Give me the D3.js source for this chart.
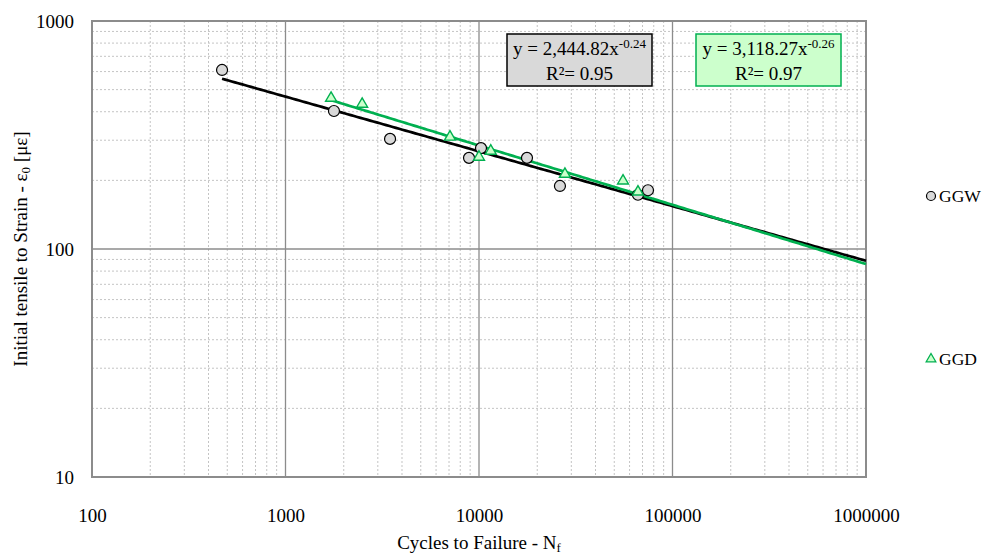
<!DOCTYPE html>
<html>
<head>
<meta charset="utf-8">
<script src="https://cdn.jsdelivr.net/npm/d3@7"></script>
<style>
  html, body { margin: 0; padding: 0; background: #fff; }
  svg text { font-family: "Liberation Serif", "Times New Roman", serif; fill: #000; }
</style>
</head>
<body>
<svg id="chart" width="984" height="556"></svg>
<script>
// GGW specimens: cycles to failure and initial tensile strain (με)
const ggwCycles = [470, 1780, 3470, 8880, 10240, 17700, 26200, 66300, 74700];
const ggwStrain = [610, 403, 304, 251, 277, 251, 189, 173, 181];

// GGD specimens
const ggdCycles = [1720, 2490, 7080, 10000, 11500, 27800, 55500, 66300];
const ggdStrain = [459, 432, 310, 253, 269, 213, 199, 178];

// Power trend lines y = a·x^b
const ggwFit = { a: 2444.82, b: -0.24, r2: 0.95, label: "2,444.82", exp: "-0.24" };
const ggdFit = { a: 3118.27, b: -0.26, r2: 0.97, label: "3,118.27", exp: "-0.26" };

const xTicks = [100, 1000, 10000, 100000, 1000000];
const yTicks = [10, 100, 1000];

const svg = d3.select("#chart");
const plotL = 92, plotR = 866, plotT = 21, plotB = 477;
const fs = "19px";

const x = d3.scaleLog().domain([100, 1000000]).range([plotL, plotR]);
const y = d3.scaleLog().domain([10, 1000]).range([plotB, plotT]);

const green = "#00B050";

// minor grid (dotted)
const minorX = [], minorY = [];
for (let d = 100; d < 1000000; d *= 10) for (let k = 2; k <= 9; k++) minorX.push(d * k);
for (let d = 10; d < 1000; d *= 10) for (let k = 2; k <= 9; k++) minorY.push(d * k);

svg.append("g").selectAll("line").data(minorX).join("line")
  .attr("x1", d => x(d)).attr("x2", d => x(d)).attr("y1", plotT).attr("y2", plotB)
  .attr("stroke", "#c4c4c4").attr("stroke-width", 1).attr("stroke-dasharray", "2,2");
svg.append("g").selectAll("line").data(minorY).join("line")
  .attr("y1", d => y(d)).attr("y2", d => y(d)).attr("x1", plotL).attr("x2", plotR)
  .attr("stroke", "#c4c4c4").attr("stroke-width", 1).attr("stroke-dasharray", "2,2");

// major grid
svg.append("g").selectAll("line").data(xTicks.slice(1, -1)).join("line")
  .attr("x1", d => x(d)).attr("x2", d => x(d)).attr("y1", plotT).attr("y2", plotB)
  .attr("stroke", "#8c8c8c").attr("stroke-width", 1.3);
svg.append("g").selectAll("line").data(yTicks.slice(1, -1)).join("line")
  .attr("y1", d => y(d)).attr("y2", d => y(d)).attr("x1", plotL).attr("x2", plotR)
  .attr("stroke", "#8c8c8c").attr("stroke-width", 1.3);

// plot frame
svg.append("rect").attr("x", plotL).attr("y", plotT)
  .attr("width", plotR - plotL).attr("height", plotB - plotT)
  .attr("fill", "none").attr("stroke", "#8c8c8c").attr("stroke-width", 2);

// axes (labels only)
const xAxis = d3.axisBottom(x).tickValues(xTicks).tickFormat(d3.format("d")).tickSize(0).tickPadding(0);
const gx = svg.append("g").attr("transform", `translate(0,${plotB})`).call(xAxis);
gx.select(".domain").remove();
gx.selectAll("text").attr("dy", null).attr("y", 45)
  .style("font-family", "Liberation Serif").style("font-size", fs);

const yAxis = d3.axisLeft(y).tickValues(yTicks).tickFormat(d3.format("d")).tickSize(0).tickPadding(0);
const gy = svg.append("g").attr("transform", `translate(${plotL},0)`).call(yAxis);
gy.select(".domain").remove();
gy.selectAll("text").attr("x", -18).attr("dy", "0.32em")
  .style("font-family", "Liberation Serif").style("font-size", fs);

// axis titles
const xt = svg.append("text").attr("x", 479).attr("y", 549).attr("text-anchor", "middle")
  .style("font-size", fs);
xt.append("tspan").text("Cycles to Failure - N");
xt.append("tspan").attr("baseline-shift", "-22%").style("font-size", "13px").text("f");

const yt = svg.append("text").attr("transform", `translate(27,${(plotT + plotB) / 2}) rotate(-90)`)
  .attr("text-anchor", "middle").style("font-size", fs);
yt.append("tspan").text("Initial tensile to Strain - ε");
yt.append("tspan").attr("baseline-shift", "-25%").style("font-size", "13px").text("0");
yt.append("tspan").text(" [με]");

// trend lines
function trend(fit, x0) {
  const xs = d3.range(0, 201).map(i => x0 * Math.pow(1000000 / x0, i / 200));
  return xs.map(v => [v, fit.a * Math.pow(v, fit.b)]);
}
const line = d3.line().x(d => x(d[0])).y(d => y(d[1]));

svg.append("path").datum(trend(ggwFit, d3.min(ggwCycles)))
  .attr("d", line).attr("fill", "none").attr("stroke", "#000").attr("stroke-width", 2.7);
svg.append("path").datum(trend(ggdFit, d3.min(ggdCycles)))
  .attr("d", line).attr("fill", "none").attr("stroke", green).attr("stroke-width", 2.7);

// markers
const ggw = ggwCycles.map((c, i) => [c, ggwStrain[i]]);
const ggd = ggdCycles.map((c, i) => [c, ggdStrain[i]]);
const tri = d3.symbol().type(d3.symbolTriangle).size(52);

svg.append("g").selectAll("circle").data(ggw).join("circle")
  .attr("cx", d => x(d[0])).attr("cy", d => y(d[1])).attr("r", 5.5)
  .attr("fill", "#d9d9d9").attr("stroke", "#000").attr("stroke-width", 1.2);

svg.append("g").selectAll("path").data(ggd).join("path")
  .attr("d", tri).attr("transform", d => `translate(${x(d[0])},${y(d[1])})`)
  .attr("fill", "#ccffcc").attr("stroke", green).attr("stroke-width", 1.4);

// equation boxes
function eqBox(fit, bx, fill, stroke) {
  const g = svg.append("g");
  g.append("rect").attr("x", bx).attr("y", 34).attr("width", 145).attr("height", 52)
    .attr("fill", fill).attr("stroke", stroke).attr("stroke-width", 1.5);
  const t1 = g.append("text").attr("x", bx + 72.5).attr("y", 55).attr("text-anchor", "middle")
    .style("font-size", fs);
  t1.append("tspan").text(`y = ${fit.label}x`);
  t1.append("tspan").attr("baseline-shift", "super").style("font-size", "13px").text(fit.exp);
  g.append("text").attr("x", bx + 72.5).attr("y", 80).attr("text-anchor", "middle")
    .style("font-size", fs).text(`R²= ${fit.r2.toFixed(2)}`);
}
eqBox(ggwFit, 507, "#d9d9d9", "#000");
eqBox(ggdFit, 696, "#ccffcc", green);

// legend
const lg = svg.append("g");
lg.append("circle").attr("cx", 931).attr("cy", 196).attr("r", 4.5)
  .attr("fill", "#d9d9d9").attr("stroke", "#000").attr("stroke-width", 1.2);
lg.append("text").attr("x", 939).attr("y", 202).style("font-size", "17.5px").text("GGW");
lg.append("path").attr("d", d3.symbol().type(d3.symbolTriangle).size(40))
  .attr("transform", "translate(931,359)")
  .attr("fill", "#ccffcc").attr("stroke", green).attr("stroke-width", 1.3);
lg.append("text").attr("x", 939).attr("y", 365).style("font-size", "17.5px").text("GGD");
</script>
</body>
</html>
